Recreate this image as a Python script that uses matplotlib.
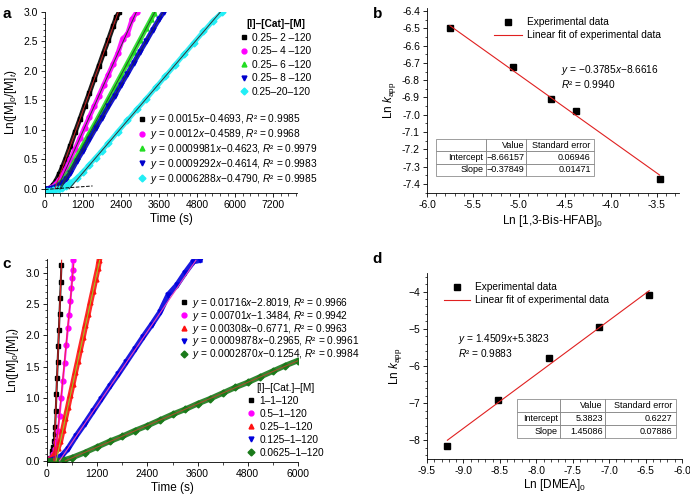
import matplotlib
matplotlib.use("Agg")
import matplotlib.pyplot as plt
from matplotlib.ticker import AutoMinorLocator, MultipleLocator, FormatStrFormatter

plt.rcParams['font.family'] = ['Liberation Sans', 'DejaVu Sans']
plt.rcParams['mathtext.fontset'] = 'custom'
plt.rcParams['mathtext.rm'] = 'Liberation Sans'
plt.rcParams['mathtext.it'] = 'Liberation Sans:italic'
plt.rcParams['mathtext.bf'] = 'Liberation Sans:bold'
plt.rcParams['font.size'] = 7.5

# ---------------- panel a data ----------------
a_names = ["0.25– 2 –120", "0.25– 4 –120", "0.25– 6 –120", "0.25– 8 –120", "0.25–20–120"]
a_eqs = [r"$y$ = 0.0015$x$−0.4693, $R$² = 0.9985",
         r"$y$ = 0.0012$x$−0.4589, $R$² = 0.9968",
         r"$y$ = 0.0009981$x$−0.4623, $R$² = 0.9979",
         r"$y$ = 0.0009292$x$−0.4614, $R$² = 0.9983",
         r"$y$ = 0.0006288$x$−0.4790, $R$² = 0.9985"]
a_slope = [0.0015, 0.0012, 0.0009981, 0.0009292, 0.0006288]
a_icpt = [-0.4693, -0.4589, -0.4623, -0.4614, -0.4790]

a_t1 = [50, 150, 250, 350, 450, 550, 650, 800, 950, 1100, 1250, 1400, 1550, 1700, 1850, 2000, 2150, 2250, 2350]
a_y1 = [0.0, 0.01, 0.06, 0.14, 0.25, 0.37, 0.51, 0.73, 0.96, 1.18, 1.41, 1.63, 1.86, 2.08, 2.31, 2.53, 2.76, 2.91, 3.0]
a_t2 = [50, 150, 250, 350, 450, 550, 650, 800, 950, 1100, 1250, 1400, 1550, 1700, 1850, 2000, 2150, 2300, 2450, 2600, 2750, 2900]
a_y2 = [0.0, 0.01, 0.04, 0.09, 0.15, 0.23, 0.33, 0.50, 0.68, 0.86, 1.04, 1.22, 1.40, 1.58, 1.76, 1.94, 2.12, 2.30, 2.55, 2.62, 2.88, 3.0]
a_t3 = [50, 150, 250, 350, 450, 550, 650, 800, 1000, 1200, 1400, 1600, 1800, 2000, 2200, 2400, 2600, 2800, 3000, 3200, 3350, 3450]
a_y3 = [0.0, 0.0, 0.02, 0.05, 0.09, 0.14, 0.21, 0.33, 0.54, 0.74, 0.94, 1.13, 1.33, 1.53, 1.73, 1.93, 2.13, 2.33, 2.53, 2.73, 2.88, 2.98]
a_t4 = [50, 150, 250, 350, 450, 550, 650, 800, 1000, 1200, 1400, 1600, 1800, 2000, 2200, 2400, 2600, 2800, 3000, 3200, 3400, 3600, 3750]
a_y4 = [0.0, 0.0, 0.01, 0.03, 0.06, 0.10, 0.16, 0.27, 0.47, 0.65, 0.84, 1.03, 1.21, 1.40, 1.58, 1.77, 1.95, 2.14, 2.33, 2.51, 2.70, 2.88, 3.0]
a_t5 = [50, 150, 250, 350, 450, 550, 650, 800, 1000, 1200, 1400, 1600, 1800, 2000, 2300, 2600, 2900, 3200, 3500, 3800, 4100, 4400, 4700, 5000, 5300, 5600]
a_y5 = [-0.03, -0.03, -0.02, -0.01, 0.0, 0.02, 0.05, 0.10, 0.18, 0.29, 0.41, 0.53, 0.65, 0.78, 0.97, 1.16, 1.35, 1.53, 1.72, 1.91, 2.10, 2.29, 2.48, 2.67, 2.85, 3.0]
a_t = [a_t1, a_t2, a_t3, a_t4, a_t5]
a_y = [a_y1, a_y2, a_y3, a_y4, a_y5]
a_end = [2313, 2882, 3469, 3725, 5533]
a_colors = ['black', '#ff00ff', '#22dd22', '#0000cc', '#22eef5']
a_markers = ['s', 'o', '^', 'v', 'D']
a_fitcol = ['#cc2222', '#333333', '#225522', '#222255', '#333333']

# ---------------- panel b data ----------------
b_x = [-5.75, -5.07, -4.65, -4.38, -3.47]
b_y = [-6.50, -6.725, -6.91, -6.98, -7.37]
b_slope, b_icpt = -0.3785, -8.6616
b_table = [['', 'Value', 'Standard error'],
           ['Intercept', '−8.66157', '0.06946'],
           ['Slope', '−0.37849', '0.01471']]

# ---------------- panel c data ----------------
c_names = ["1–1–120", "0.5–1–120", "0.25–1–120", "0.125–1–120", "0.0625–1–120"]
c_eqs = [r"$y$ = 0.01716$x$−2.8019, $R$² = 0.9966",
         r"$y$ = 0.00701$x$−1.3484, $R$² = 0.9942",
         r"$y$ = 0.00308$x$−0.6771, $R$² = 0.9963",
         r"$y$ = 0.0009878$x$−0.2965, $R$² = 0.9961",
         r"$y$ = 0.0002870$x$−0.1254, $R$² = 0.9984"]
c_slope = [0.01716, 0.00701, 0.00308, 0.0009878, 0.000287]
c_icpt = [-2.8019, -1.3484, -0.6771, -0.2965, -0.1254]
c_t1 = [20, 50, 80, 110, 130, 150, 165, 180, 195, 210, 225, 240, 255, 270, 285, 300, 315, 330, 345]
c_y1 = [0.0, 0.02, 0.05, 0.10, 0.15, 0.22, 0.32, 0.42, 0.54, 0.80, 1.06, 1.32, 1.57, 1.83, 2.09, 2.35, 2.60, 2.86, 3.12]
c_t2 = [20, 60, 100, 140, 180, 220, 260, 300, 340, 380, 420, 460, 500, 530, 560, 585, 600, 612, 620]
c_y2 = [0.0, 0.02, 0.05, 0.10, 0.18, 0.30, 0.47, 0.72, 1.0, 1.28, 1.56, 1.84, 2.12, 2.33, 2.55, 2.75, 2.92, 3.05, 3.2]
c_t3 = [20, 80, 140, 200, 260, 320, 380, 440, 500, 560, 620, 680, 740, 800, 860, 920, 980, 1040, 1100, 1160, 1220, 1250]
c_y3 = [0.0, 0.02, 0.06, 0.12, 0.20, 0.31, 0.49, 0.68, 0.86, 1.05, 1.23, 1.42, 1.60, 1.79, 1.97, 2.16, 2.34, 2.53, 2.71, 2.90, 3.08, 3.2]
c_t4 = [50, 200, 350, 500, 700, 900, 1100, 1300, 1500, 1700, 1900, 2100, 2300, 2500, 2700, 2900, 3100, 3300, 3500, 3650]
c_y4 = [0.0, 0.03, 0.08, 0.19, 0.40, 0.59, 0.79, 0.99, 1.19, 1.38, 1.58, 1.78, 1.98, 2.17, 2.37, 2.65, 2.80, 3.0, 3.18, 3.2]
c_t5 = [0, 200, 400, 600, 900, 1200, 1500, 1800, 2100, 2400, 2700, 3000, 3300, 3600, 3900, 4200, 4500, 4800, 5100, 5400, 5700, 6000]
c_y5 = [0.0, 0.0, 0.01, 0.05, 0.13, 0.22, 0.31, 0.39, 0.48, 0.56, 0.65, 0.74, 0.82, 0.91, 0.99, 1.08, 1.17, 1.25, 1.34, 1.43, 1.52, 1.60]
c_t = [c_t1, c_t2, c_t3, c_t4, c_t5]
c_y = [c_y1, c_y2, c_y3, c_y4, c_y5]
c_end = [350, 640, 1260, 3560, 6000]
c_colors = ['black', '#ff00ff', '#ff1111', '#0000dd', '#1a7a1a']
c_markers = ['s', 'o', '^', 'v', 'D']
c_fitcol = ['#dd2222', '#ee2255', '#99cc22', '#ee44bb', '#a0522d']

# ---------------- panel d data ----------------
d_x = [-9.22, -8.53, -7.83, -7.14, -6.45]
d_y = [-8.15, -6.92, -5.78, -4.96, -4.10]
d_slope, d_icpt = 1.4509, 5.3823
d_table = [['', 'Value', 'Standard error'],
           ['Intercept', '5.3823', '0.6227'],
           ['Slope', '1.45086', '0.07886']]


def style(ax):
    for s in ['top', 'right']:
        ax.spines[s].set_visible(False)
    ax.tick_params(direction='out', length=3, width=0.6, labelsize=7.5, pad=2)
    ax.tick_params(which='minor', direction='out', length=1.8, width=0.5)
    for s in ['left', 'bottom']:
        ax.spines[s].set_linewidth(0.6)


def add_table(ax, rows, bbox, widths, col1_loc):
    tb = ax.table(cellText=rows, colWidths=widths, bbox=bbox, cellLoc='right')
    tb.auto_set_font_size(False)
    tb.set_fontsize(6.5)
    for (r, c), cell in tb.get_celld().items():
        cell.set_edgecolor('#777777')
        cell.set_linewidth(0.5)
        cell.PAD = 0.05
        if c == 0:
            cell._loc = 'left'
        elif c == 1:
            cell._loc = col1_loc
        if r == 0:
            cell._loc = 'center'
    return tb


fig = plt.figure(figsize=(6.9, 4.98), dpi=100)

# ===== a =====
ax = fig.add_axes([0.0652, 0.6124, 0.3652, 0.3635])
handles = []
for i in range(5):
    ax.plot(a_t[i], a_y[i], '-', color=a_colors[i], lw=3.5, alpha=0.9, solid_capstyle='round')
    h, = ax.plot(a_t[i], a_y[i], a_markers[i], color=a_colors[i], ms=3.5, ls='none', label=a_names[i])
    handles.append(h)
for i in range(5):
    x0 = -a_icpt[i] / a_slope[i]
    ax.plot([x0, a_end[i]], [0, a_slope[i] * a_end[i] + a_icpt[i]], '-', color=a_fitcol[i], lw=0.7)
ax.plot([0, 1500], [-0.01, 0.05], '--', color='black', lw=0.7)
ax.set_xlim(0, 7950)
ax.set_ylim(-0.07, 3.0)
ax.xaxis.set_major_locator(MultipleLocator(1200))
ax.xaxis.set_minor_locator(AutoMinorLocator(5))
ax.yaxis.set_major_locator(MultipleLocator(0.5))
ax.yaxis.set_minor_locator(AutoMinorLocator(5))
ax.yaxis.set_major_formatter(FormatStrFormatter('%.1f'))
style(ax)
ax.set_xlabel("Time (s)", fontsize=8.5, labelpad=2)
ax.set_ylabel(r"Ln([M]$_0$/[M]$_t$)", fontsize=8.5, labelpad=3)
leg1 = ax.legend(handles, a_names, loc='upper left', bbox_to_anchor=(0.745, 1.0), frameon=False,
                 title="[I]–[Cat]–[M]", title_fontproperties={'weight': 'bold', 'size': 7.3},
                 fontsize=7.3, handlelength=0.8, handletextpad=0.4, labelspacing=0.35, borderpad=0.2)
ax.add_artist(leg1)
ax.legend(handles, a_eqs, loc='upper left', bbox_to_anchor=(0.34, 0.485), frameon=False,
          fontsize=7.3, handlelength=0.8, handletextpad=0.4, labelspacing=0.08, borderpad=0.2)

# ===== b =====
ax = fig.add_axes([0.6188, 0.6124, 0.3652, 0.3715])
hp, = ax.plot(b_x, b_y, 's', color='black', ms=4, ls='none')
bx = [b_x[0], b_x[-1]]
hl, = ax.plot(bx, [b_slope * v + b_icpt for v in bx], '-', color='#e02020', lw=0.8)
ax.set_xlim(-6.0, -3.26)
ax.set_ylim(-7.452, -6.383)
ax.xaxis.set_major_locator(MultipleLocator(0.5))
ax.xaxis.set_minor_locator(AutoMinorLocator(5))
ax.yaxis.set_major_locator(MultipleLocator(0.1))
ax.yaxis.set_minor_locator(AutoMinorLocator(2))
ax.xaxis.set_major_formatter(FormatStrFormatter('%.1f'))
ax.yaxis.set_major_formatter(FormatStrFormatter('%.1f'))
style(ax)
ax.set_xlabel(r"Ln [1,3-Bis-HFAB]$_0$", fontsize=8.5, labelpad=2)
ax.set_ylabel(r"Ln $k_{\rm app}$", fontsize=8.5, labelpad=3)
ax.legend([hp, hl], ["Experimental data", "Linear fit of experimental data"], loc='upper right',
          bbox_to_anchor=(0.965, 1.0), frameon=False, fontsize=7.3, handlelength=2.8,
          handletextpad=0.5, labelspacing=0.3)
ax.text(0.53, 0.63, r"$y$ = −0.3785$x$−8.6616" + "\n" + r"$R$² = 0.9940", transform=ax.transAxes,
        fontsize=7.3, va='center', linespacing=1.1)
add_table(ax, b_table, [0.036, 0.092, 0.627, 0.2], [0.316, 0.253, 0.43], 'left')

# ===== c =====
ax = fig.add_axes([0.0681, 0.0723, 0.3638, 0.4076])
handles = []
for i in range(5):
    ax.plot(c_t[i], c_y[i], '-', color=c_colors[i], lw=4 if i >= 2 else 1.5, alpha=0.9)
    h, = ax.plot(c_t[i], c_y[i], c_markers[i], color=c_colors[i], ms=3.5, ls='none')
    handles.append(h)
for i in range(5):
    x0 = -c_icpt[i] / c_slope[i]
    ax.plot([x0, c_end[i]], [0, min(3.2, c_slope[i] * c_end[i] + c_icpt[i])], '-', color=c_fitcol[i], lw=0.8)
ax.set_xlim(0, 6000)
ax.set_ylim(-0.02, 3.22)
ax.xaxis.set_major_locator(MultipleLocator(1200))
ax.xaxis.set_minor_locator(AutoMinorLocator(2))
ax.yaxis.set_major_locator(MultipleLocator(0.5))
ax.yaxis.set_minor_locator(AutoMinorLocator(5))
ax.yaxis.set_major_formatter(FormatStrFormatter('%.1f'))
style(ax)
ax.set_xlabel("Time (s)", fontsize=8.5, labelpad=2)
ax.set_ylabel(r"Ln([M]$_0$/[M]$_t$)", fontsize=8.5, labelpad=3)
leg1 = ax.legend(handles, c_names, loc='upper left', bbox_to_anchor=(0.77, 0.425), frameon=False,
                 title="[I]–[Cat.]–[M]", title_fontsize=7.3,
                 fontsize=7.3, handlelength=0.8, handletextpad=0.4, labelspacing=0.3, borderpad=0.2)
ax.add_artist(leg1)
ax.legend(handles, c_eqs, loc='upper left', bbox_to_anchor=(0.5, 0.855), frameon=False,
          fontsize=7.3, handlelength=0.8, handletextpad=0.4, labelspacing=-0.1, borderpad=0.2)

# ===== d =====
ax = fig.add_axes([0.6188, 0.0783, 0.3696, 0.3735])
hp, = ax.plot(d_x, d_y, 's', color='black', ms=4.5, ls='none')
dx = [d_x[0], d_x[-1]]
hl, = ax.plot(dx, [d_slope * v + d_icpt for v in dx], '-', color='#e02020', lw=0.8)
ax.set_xlim(-9.5, -6.0)
ax.set_ylim(-8.5, -3.5)
ax.xaxis.set_major_locator(MultipleLocator(0.5))
ax.xaxis.set_minor_locator(AutoMinorLocator(5))
ax.yaxis.set_major_locator(MultipleLocator(1))
ax.yaxis.set_minor_locator(AutoMinorLocator(5))
ax.xaxis.set_major_formatter(FormatStrFormatter('%.1f'))
style(ax)
ax.set_xlabel(r"Ln [DMEA]$_0$", fontsize=8.5, labelpad=1)
ax.set_ylabel(r"Ln $k_{\rm app}$", fontsize=8.5, labelpad=3)
ax.legend([hp, hl], ["Experimental data", "Linear fit of experimental data"], loc='upper left',
          bbox_to_anchor=(0.03, 1.0), frameon=False, fontsize=7.3, handlelength=2.6,
          handletextpad=0.5, labelspacing=0.3)
ax.text(0.12, 0.61, r"$y$ = 1.4509$x$+5.3823" + "\n" + r"$R$² = 0.9883", transform=ax.transAxes,
        fontsize=7.3, va='center', linespacing=1.1)
add_table(ax, d_table, [0.353, 0.113, 0.624, 0.21], [0.27, 0.283, 0.447], 'right')

# panel letters
fig.text(0.003, 0.985, "a", fontsize=11, fontweight='bold', va='top')
fig.text(0.54, 0.985, "b", fontsize=11, fontweight='bold', va='top')
fig.text(0.003, 0.483, "c", fontsize=11, fontweight='bold', va='top')
fig.text(0.54, 0.493, "d", fontsize=11, fontweight='bold', va='top')

fig.savefig("out.png", dpi=100)
